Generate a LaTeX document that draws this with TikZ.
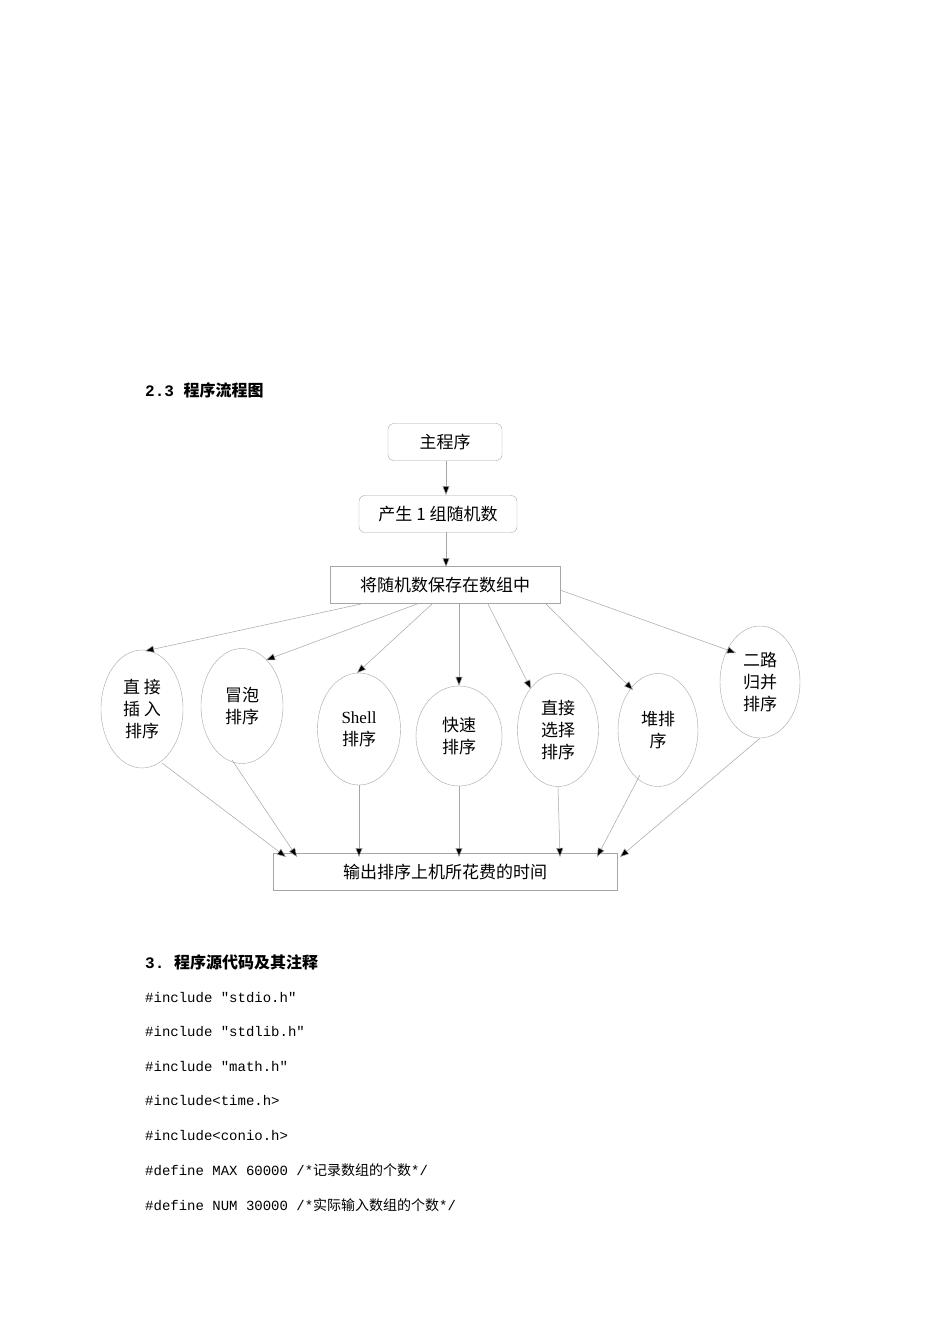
\documentclass[tikz,border=0pt]{standalone}
\usepackage{fontspec}
\setmainfont{Liberation Serif}
\setmonofont{Liberation Mono}
\newfontfamily\cjk{Noto Sans CJK SC}
\usetikzlibrary{shapes.geometric,arrows.meta}
\begin{document}
\begin{tikzpicture}[x=1pt,y=-1pt,
  lbl/.style={font=\cjk\fontsize{17}{22}\selectfont,align=center,inner sep=0pt},
  rbox/.style={draw=gray!70,rounded corners=6pt,minimum height=37pt,lbl},
  sbox/.style={draw=gray!70,minimum height=37pt,lbl},
  ell/.style={draw=gray!70,ellipse,lbl},
  arr/.style={draw=gray!70,line width=0.5pt,-{Triangle[length=9pt,width=7pt,fill=black]}},
  code/.style={anchor=west,inner sep=0pt,font=\ttfamily\fontsize{14}{16}\selectfont},
  head/.style={anchor=west,inner sep=0pt,font=\cjk\bfseries\fontsize{16}{18}\selectfont}]
\useasboundingbox[fill=white] (0,0) rectangle (950,1344);
\node[head] (t1) at (145,390) {\ttfamily 2.3 \cjk 程序流程图};
\node[rbox,minimum width=114pt] (b1) at (445,442) {主程序};
\node[rbox,minimum width=158pt] (b2) at (438,514) {产生 1 组随机数};
\node[sbox,minimum width=230pt] (b3) at (445,585) {将随机数保存在数组中};
\node[sbox,minimum width=344pt] (b4) at (445,872) {输出排序上机所花费的时间};
\draw[arr] (b1.south -| 446,0) -- (446,495);
\draw[arr] (446,532) -- (446,567);
\node[ell,minimum width=82pt,minimum height=118pt] (e1) at (142,709) {直 接\\插 入\\排序};
\node[ell,minimum width=82pt,minimum height=115pt] (e2) at (242,706) {冒泡\\排序};
\node[ell,minimum width=83pt,minimum height=112pt] (e3) at (359,729) {{\rmfamily Shell}\\排序};
\node[ell,minimum width=86pt,minimum height=100pt] (e4) at (459,736) {快速\\排序};
\node[ell,minimum width=81pt,minimum height=113pt] (e5) at (558,730) {直接\\选择\\排序};
\node[ell,minimum width=80pt,minimum height=113pt] (e6) at (658,730) {堆排\\序};
\node[ell,minimum width=80pt,minimum height=112pt] (e7) at (760,682) {二路\\归并\\排序};
\coordinate (s1) at (361,604); \coordinate (s2) at (417,604);
\coordinate (s3) at (432,604); \coordinate (s4) at (459,604);
\coordinate (s5) at (488,604); \coordinate (s6) at (546,604);
\coordinate (s7) at (560,590);
\draw[arr] (s1) -- (145,651);
\draw[arr] (s2) -- (266,660);
\draw[arr] (s3) -- (357,673);
\draw[arr] (s4) -- (e4.north);
\draw[arr] (s5) -- (531,689);
\draw[arr] (s6) -- (633,690);
\draw[arr] (s7) -- (736,653);
\draw[arr] (162,763) -- (286,857);
\draw[arr] (232,760) -- (297,857);
\draw[arr] (e3.south) -- (359,857);
\draw[arr] (e4.south) -- (459,857);
\draw[arr] (e5.south) -- (560,857);
\draw[arr] (640,775) -- (597,857);
\draw[arr] (e7.south) -- (620,857);
\node[head] (t2) at (145,962) {\ttfamily 3. \cjk 程序源代码及其注释};
\node[code] (c1) at (145,998) {\#include "stdio.h"};
\node[code] (c2) at (145,1032) {\#include "stdlib.h"};
\node[code] (c3) at (145,1067) {\#include "math.h"};
\node[code] (c4) at (145,1101) {\#include<time.h>};
\node[code] (c5) at (145,1136) {\#include<conio.h>};
\node[code] (c6) at (145,1170) {\#define MAX 60000 /*{\cjk 记录数组的个数}*/};
\node[code] (c7) at (145,1205) {\#define NUM 30000 /*{\cjk 实际输入数组的个数}*/};
\end{tikzpicture}
\end{document}
